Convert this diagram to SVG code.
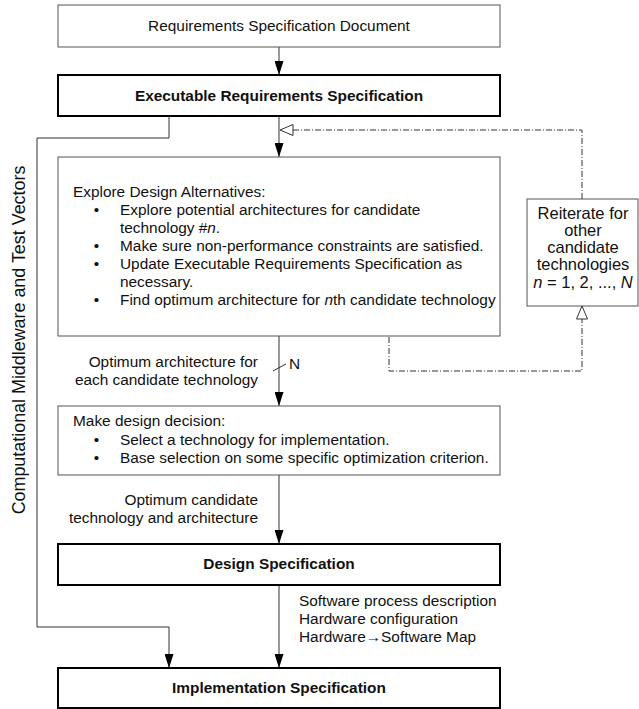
<svg xmlns="http://www.w3.org/2000/svg" width="639" height="709" viewBox="0 0 639 709">
<style>
text{font-family:"Liberation Sans",Arial,sans-serif;font-size:15.4px;fill:#111}
.b{font-weight:bold}
.m{text-anchor:middle}
.e{text-anchor:end}
.r{font-size:16.5px}
.v{font-size:17.9px}
.thin{fill:#fff;stroke:#555;stroke-width:1}
.thick{fill:#fff;stroke:#000;stroke-width:2}
.c{fill:none;stroke:#333;stroke-width:1}
.dd{fill:none;stroke:#333;stroke-width:1;stroke-dasharray:6 2 1 2}
</style>
<defs>
<marker id="a" markerUnits="userSpaceOnUse" viewBox="0 0 14 9" refX="14" refY="4.5" markerWidth="14" markerHeight="9" orient="auto">
<path d="M0,0 L14,4.5 L0,9 Z" fill="#000"/>
</marker>
<marker id="o" markerUnits="userSpaceOnUse" viewBox="-1 -1 15 13" refX="13" refY="5.5" markerWidth="15" markerHeight="13" orient="auto">
<path d="M0,0 L13,5.5 L0,11 Z" fill="#fff" stroke="#333" stroke-width="1"/>
</marker>
</defs>
<g id="connectors">
<line class="c" x1="279" y1="47" x2="279" y2="75" marker-end="url(#a)"/>
<line class="c" x1="279" y1="116" x2="279" y2="157" marker-end="url(#a)"/>
<line class="c" x1="279" y1="336" x2="279" y2="406" marker-end="url(#a)"/>
<line class="c" x1="279" y1="475" x2="279" y2="544" marker-end="url(#a)"/>
<line class="c" x1="279" y1="585" x2="279" y2="668" marker-end="url(#a)"/>
<polyline class="c" points="169,117 169,138 37,138 37,627 169,627 169,668" marker-end="url(#a)"/>
<polyline class="dd" points="582,199 582,130 280,130" marker-end="url(#o)"/>
<polyline class="dd" points="389,337 389,371 582,371 582,306" marker-end="url(#o)"/>
<line class="c" x1="273" y1="371" x2="286" y2="364"/>
<text x="289" y="369">N</text>
<text class="e" x="258" y="367">Optimum architecture for</text>
<text class="e" x="258" y="385">each candidate technology</text>
<text class="e" x="258" y="505">Optimum candidate</text>
<text class="e" x="258" y="523">technology and architecture</text>
<text x="299" y="606">Software process description</text>
<text x="299" y="624">Hardware configuration</text>
<text x="299" y="642">Hardware→Software Map</text>
<text class="m v" transform="translate(25,340) rotate(-90)">Computational Middleware and Test Vectors</text>
</g>
<g id="req-doc">
<rect class="thin" x="58" y="5" width="442" height="42"/>
<text class="m" x="279" y="31">Requirements Specification Document</text>
</g>
<g id="exec-req">
<rect class="thick" x="58" y="75" width="442" height="41"/>
<text class="m b" x="279" y="101">Executable Requirements Specification</text>
</g>
<g id="explore">
<rect class="thin" x="58" y="157" width="442" height="179"/>
<text x="73" y="197">Explore Design Alternatives:</text>
<text class="m" x="96.5" y="215">•</text>
<text x="120" y="215">Explore potential architectures for candidate</text>
<text x="120" y="233">technology #<tspan font-style="italic">n</tspan>.</text>
<text class="m" x="96.5" y="251">•</text>
<text x="120" y="251">Make sure non-performance constraints are satisfied.</text>
<text class="m" x="96.5" y="269">•</text>
<text x="120" y="269">Update Executable Requirements Specification as</text>
<text x="120" y="287">necessary.</text>
<text class="m" x="96.5" y="305">•</text>
<text x="120" y="305">Find optimum architecture for <tspan font-style="italic">n</tspan>th candidate technology</text>
</g>
<g id="reiterate">
<rect class="thin" x="527" y="199" width="111" height="107"/>
<text class="m r" x="583" y="219">Reiterate for</text>
<text class="m r" x="583" y="236">other</text>
<text class="m r" x="583" y="253">candidate</text>
<text class="m r" x="583" y="270">technologies</text>
<text class="m r" x="583" y="288"><tspan font-style="italic">n</tspan> = 1, 2, ..., <tspan font-style="italic">N</tspan></text>
</g>
<g id="decision">
<rect class="thin" x="58" y="406" width="442" height="69"/>
<text x="73" y="426">Make design decision:</text>
<text class="m" x="96.5" y="445">•</text>
<text x="120" y="445">Select a technology for implementation.</text>
<text class="m" x="96.5" y="463">•</text>
<text x="120" y="463">Base selection on some specific optimization criterion.</text>
</g>
<g id="design-spec">
<rect class="thick" x="58" y="544" width="442" height="41"/>
<text class="m b" x="279" y="569">Design Specification</text>
</g>
<g id="impl-spec">
<rect class="thick" x="58" y="668" width="442" height="40"/>
<text class="m b" x="279" y="693">Implementation Specification</text>
</g>
</svg>
